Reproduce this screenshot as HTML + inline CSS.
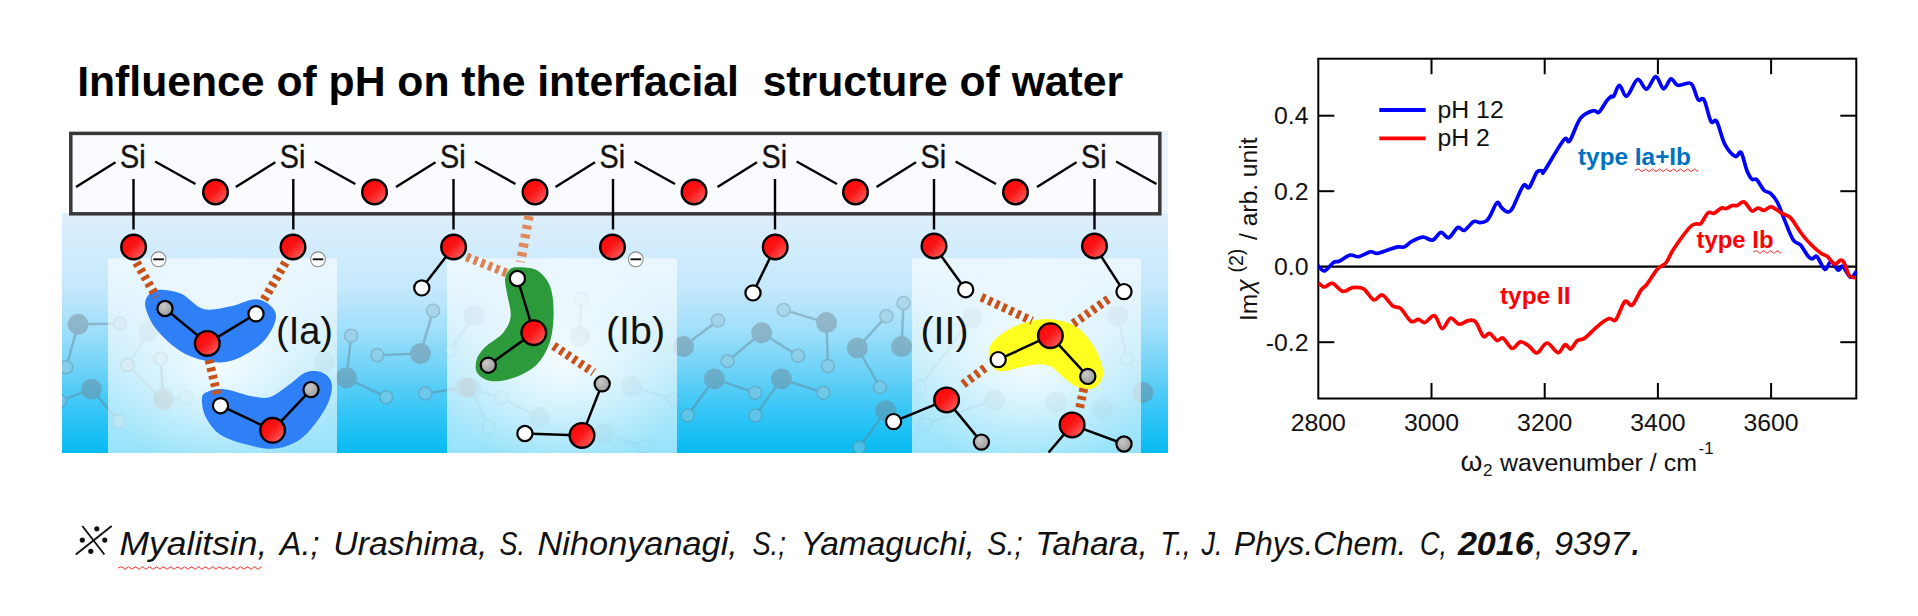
<!DOCTYPE html>
<html><head><meta charset="utf-8"><title>Influence of pH</title>
<style>
html,body{margin:0;padding:0;background:#fff;}
body{width:1918px;height:616px;overflow:hidden;font-family:"Liberation Sans",sans-serif;}
svg{position:absolute;left:0;top:0;display:block}
text{font-family:"Liberation Sans",sans-serif;}
</style></head><body>
<svg width="1918" height="616" viewBox="0 0 1918 616">
<defs>
<linearGradient id="bg" x1="0" y1="0" x2="0" y2="1">
<stop offset="0" stop-color="#deeffc"/>
<stop offset="0.32" stop-color="#c4e8fc"/>
<stop offset="0.5" stop-color="#9cdefa"/>
<stop offset="0.65" stop-color="#6fd3f8"/>
<stop offset="0.82" stop-color="#38c6f6"/>
<stop offset="1" stop-color="#06bbf3"/>
</linearGradient>
<linearGradient id="pn" x1="0" y1="0" x2="0" y2="1">
<stop offset="0" stop-color="#e6f3fc"/>
<stop offset="0.5" stop-color="#d2eefb"/>
<stop offset="1" stop-color="#8fdcf9"/>
</linearGradient>
<radialGradient id="glow" cx="0.5" cy="0.55" r="0.55">
<stop offset="0" stop-color="#fff" stop-opacity="0.8"/>
<stop offset="0.6" stop-color="#fff" stop-opacity="0.3"/>
<stop offset="1" stop-color="#fff" stop-opacity="0"/>
</radialGradient>
<linearGradient id="ox" x1="0.1" y1="0.1" x2="0.9" y2="0.9">
<stop offset="0" stop-color="#ff0808"/>
<stop offset="0.45" stop-color="#f81414"/>
<stop offset="0.8" stop-color="#fb4444"/>
<stop offset="1" stop-color="#ff6a6a"/>
</linearGradient>
<radialGradient id="hg" cx="0.4" cy="0.35" r="0.7">
<stop offset="0" stop-color="#c8c8c8"/>
<stop offset="1" stop-color="#9a9a9a"/>
</radialGradient>
</defs>

<text x="77.2" y="96.2" font-size="42.7" font-weight="bold" fill="#000" xml:space="preserve">Influence of pH on the interfacial  structure of water</text>
<clipPath id="cp"><rect x="62" y="130" width="1106" height="323"/></clipPath>
<rect x="1158" y="131" width="10" height="84" fill="#edf5fc"/>
<rect x="62" y="213" width="1106" height="240" fill="url(#bg)"/>
<g opacity="0.42" stroke="#64808f" stroke-width="2.5" clip-path="url(#cp)">
<line x1="683.5" y1="346.6" x2="718.0" y2="320.4"/>
<line x1="761.6" y1="332.8" x2="727.6" y2="361.2"/>
<line x1="761.6" y1="332.8" x2="798.0" y2="355.7"/>
<line x1="826.5" y1="322.6" x2="783.7" y2="309.9"/>
<line x1="826.5" y1="322.6" x2="827.9" y2="365.9"/>
<line x1="857.4" y1="348.0" x2="886.4" y2="316.2"/>
<line x1="857.4" y1="348.0" x2="880.0" y2="387.2"/>
<line x1="901.6" y1="346.6" x2="903.5" y2="303.0"/>
<line x1="714.4" y1="378.9" x2="755.3" y2="392.7"/>
<line x1="714.4" y1="378.9" x2="687.6" y2="415.6"/>
<line x1="781.5" y1="378.9" x2="823.4" y2="392.7"/>
<line x1="781.5" y1="378.9" x2="755.3" y2="415.6"/>
<line x1="885.8" y1="410.7" x2="859.3" y2="447.4"/>
<line x1="346.5" y1="377.8" x2="351.2" y2="335.7"/>
<line x1="346.5" y1="377.8" x2="386.2" y2="397.2"/>
<line x1="420.5" y1="353.6" x2="377.3" y2="355.2"/>
<line x1="420.5" y1="353.6" x2="433.0" y2="310.8"/>
<line x1="466.0" y1="387.5" x2="425.2" y2="393.4"/>
<line x1="78.1" y1="324.3" x2="119.9" y2="323.5"/>
<line x1="78.1" y1="324.3" x2="66.3" y2="367.3"/>
<line x1="91.5" y1="389.2" x2="119.0" y2="421.6"/>
<line x1="91.5" y1="389.2" x2="60.0" y2="401.0"/>
<line x1="163.6" y1="400.5" x2="127.2" y2="364.8"/>
<line x1="163.6" y1="400.5" x2="161.2" y2="358.0"/>
<circle cx="683.5" cy="346.6" r="10.5" fill="#707c88" stroke="none"/>
<circle cx="718.0" cy="320.4" r="6.5" fill="#9fc4d6" stroke="#6f8796" stroke-width="1.5"/>
<circle cx="761.6" cy="332.8" r="10.5" fill="#707c88" stroke="none"/>
<circle cx="727.6" cy="361.2" r="6.5" fill="#9fc4d6" stroke="#6f8796" stroke-width="1.5"/>
<circle cx="798.0" cy="355.7" r="6.5" fill="#9fc4d6" stroke="#6f8796" stroke-width="1.5"/>
<circle cx="826.5" cy="322.6" r="10.5" fill="#707c88" stroke="none"/>
<circle cx="783.7" cy="309.9" r="6.5" fill="#9fc4d6" stroke="#6f8796" stroke-width="1.5"/>
<circle cx="827.9" cy="365.9" r="6.5" fill="#9fc4d6" stroke="#6f8796" stroke-width="1.5"/>
<circle cx="857.4" cy="348.0" r="10.5" fill="#707c88" stroke="none"/>
<circle cx="886.4" cy="316.2" r="6.5" fill="#9fc4d6" stroke="#6f8796" stroke-width="1.5"/>
<circle cx="880.0" cy="387.2" r="6.5" fill="#9fc4d6" stroke="#6f8796" stroke-width="1.5"/>
<circle cx="901.6" cy="346.6" r="10.5" fill="#707c88" stroke="none"/>
<circle cx="903.5" cy="303.0" r="6.5" fill="#9fc4d6" stroke="#6f8796" stroke-width="1.5"/>
<circle cx="714.4" cy="378.9" r="10.5" fill="#707c88" stroke="none"/>
<circle cx="755.3" cy="392.7" r="6.5" fill="#9fc4d6" stroke="#6f8796" stroke-width="1.5"/>
<circle cx="687.6" cy="415.6" r="6.5" fill="#9fc4d6" stroke="#6f8796" stroke-width="1.5"/>
<circle cx="781.5" cy="378.9" r="10.5" fill="#707c88" stroke="none"/>
<circle cx="823.4" cy="392.7" r="6.5" fill="#9fc4d6" stroke="#6f8796" stroke-width="1.5"/>
<circle cx="755.3" cy="415.6" r="6.5" fill="#9fc4d6" stroke="#6f8796" stroke-width="1.5"/>
<circle cx="885.8" cy="410.7" r="10.5" fill="#707c88" stroke="none"/>
<circle cx="859.3" cy="447.4" r="6.5" fill="#9fc4d6" stroke="#6f8796" stroke-width="1.5"/>
<circle cx="346.5" cy="377.8" r="10.5" fill="#707c88" stroke="none"/>
<circle cx="351.2" cy="335.7" r="6.5" fill="#9fc4d6" stroke="#6f8796" stroke-width="1.5"/>
<circle cx="386.2" cy="397.2" r="6.5" fill="#9fc4d6" stroke="#6f8796" stroke-width="1.5"/>
<circle cx="420.5" cy="353.6" r="10.5" fill="#707c88" stroke="none"/>
<circle cx="377.3" cy="355.2" r="6.5" fill="#9fc4d6" stroke="#6f8796" stroke-width="1.5"/>
<circle cx="433.0" cy="310.8" r="6.5" fill="#9fc4d6" stroke="#6f8796" stroke-width="1.5"/>
<circle cx="466.0" cy="387.5" r="10.5" fill="#707c88" stroke="none"/>
<circle cx="425.2" cy="393.4" r="6.5" fill="#9fc4d6" stroke="#6f8796" stroke-width="1.5"/>
<circle cx="78.1" cy="324.3" r="10.5" fill="#707c88" stroke="none"/>
<circle cx="119.9" cy="323.5" r="6.5" fill="#9fc4d6" stroke="#6f8796" stroke-width="1.5"/>
<circle cx="66.3" cy="367.3" r="6.5" fill="#9fc4d6" stroke="#6f8796" stroke-width="1.5"/>
<circle cx="91.5" cy="389.2" r="10.5" fill="#707c88" stroke="none"/>
<circle cx="119.0" cy="421.6" r="6.5" fill="#9fc4d6" stroke="#6f8796" stroke-width="1.5"/>
<circle cx="60.0" cy="401.0" r="6.5" fill="#9fc4d6" stroke="#6f8796" stroke-width="1.5"/>
<circle cx="163.6" cy="400.5" r="10.5" fill="#707c88" stroke="none"/>
<circle cx="127.2" cy="364.8" r="6.5" fill="#9fc4d6" stroke="#6f8796" stroke-width="1.5"/>
<circle cx="161.2" cy="358.0" r="6.5" fill="#9fc4d6" stroke="#6f8796" stroke-width="1.5"/>
<circle cx="1143.0" cy="392.5" r="10.5" fill="#707c88" stroke="none"/>
</g>
<rect x="108" y="258.3" width="229" height="195" fill="#fff" opacity="0.58"/>
<rect x="108" y="258.3" width="229" height="195" fill="url(#glow)"/>
<rect x="447" y="258.3" width="230" height="195" fill="#fff" opacity="0.58"/>
<rect x="447" y="258.3" width="230" height="195" fill="url(#glow)"/>
<rect x="912" y="258.3" width="229" height="195" fill="#fff" opacity="0.58"/>
<rect x="912" y="258.3" width="229" height="195" fill="url(#glow)"/>
<g opacity="0.055" stroke="#5a6a75" stroke-width="2.5">
<line x1="474.1" y1="315.1" x2="449.7" y2="350.8"/>
<line x1="579.6" y1="336.2" x2="581.2" y2="298.8"/>
<line x1="470.8" y1="388.1" x2="488.7" y2="427.1"/>
<line x1="470.8" y1="388.1" x2="501.7" y2="397.9"/>
<line x1="539.0" y1="417.3" x2="501.7" y2="397.9"/>
<line x1="631.6" y1="386.5" x2="673.8" y2="399.5"/>
<line x1="604.0" y1="433.6" x2="644.5" y2="446.6"/>
<line x1="148.7" y1="331.3" x2="127.6" y2="365.4"/>
<line x1="163.3" y1="397.9" x2="160.0" y2="358.9"/>
<line x1="163.3" y1="397.9" x2="186.0" y2="397.9"/>
<line x1="972.0" y1="317.8" x2="919.7" y2="386.8"/>
<line x1="1117.7" y1="315.9" x2="1127.0" y2="358.8"/>
<line x1="994.4" y1="399.9" x2="925.3" y2="424.2"/>
<circle cx="474.1" cy="315.1" r="10.5" fill="#70777f" stroke="none"/>
<circle cx="449.7" cy="350.8" r="6.5" fill="#dfe8ee" stroke="#5f6f7a" stroke-width="1.5"/>
<circle cx="579.6" cy="336.2" r="10.5" fill="#70777f" stroke="none"/>
<circle cx="581.2" cy="298.8" r="6.5" fill="#dfe8ee" stroke="#5f6f7a" stroke-width="1.5"/>
<circle cx="470.8" cy="388.1" r="10.5" fill="#70777f" stroke="none"/>
<circle cx="488.7" cy="427.1" r="6.5" fill="#dfe8ee" stroke="#5f6f7a" stroke-width="1.5"/>
<circle cx="501.7" cy="397.9" r="6.5" fill="#dfe8ee" stroke="#5f6f7a" stroke-width="1.5"/>
<circle cx="539.0" cy="417.3" r="10.5" fill="#70777f" stroke="none"/>
<circle cx="501.7" cy="397.9" r="6.5" fill="#dfe8ee" stroke="#5f6f7a" stroke-width="1.5"/>
<circle cx="631.6" cy="386.5" r="10.5" fill="#70777f" stroke="none"/>
<circle cx="673.8" cy="399.5" r="6.5" fill="#dfe8ee" stroke="#5f6f7a" stroke-width="1.5"/>
<circle cx="604.0" cy="433.6" r="10.5" fill="#70777f" stroke="none"/>
<circle cx="644.5" cy="446.6" r="6.5" fill="#dfe8ee" stroke="#5f6f7a" stroke-width="1.5"/>
<circle cx="148.7" cy="331.3" r="10.5" fill="#70777f" stroke="none"/>
<circle cx="127.6" cy="365.4" r="6.5" fill="#dfe8ee" stroke="#5f6f7a" stroke-width="1.5"/>
<circle cx="163.3" cy="397.9" r="10.5" fill="#70777f" stroke="none"/>
<circle cx="160.0" cy="358.9" r="6.5" fill="#dfe8ee" stroke="#5f6f7a" stroke-width="1.5"/>
<circle cx="186.0" cy="397.9" r="6.5" fill="#dfe8ee" stroke="#5f6f7a" stroke-width="1.5"/>
<circle cx="324.0" cy="362.0" r="10.5" fill="#70777f" stroke="none"/>
<circle cx="972.0" cy="317.8" r="10.5" fill="#70777f" stroke="none"/>
<circle cx="919.7" cy="386.8" r="6.5" fill="#dfe8ee" stroke="#5f6f7a" stroke-width="1.5"/>
<circle cx="1117.7" cy="315.9" r="10.5" fill="#70777f" stroke="none"/>
<circle cx="1127.0" cy="358.8" r="6.5" fill="#dfe8ee" stroke="#5f6f7a" stroke-width="1.5"/>
<circle cx="994.4" cy="399.9" r="10.5" fill="#70777f" stroke="none"/>
<circle cx="925.3" cy="424.2" r="6.5" fill="#dfe8ee" stroke="#5f6f7a" stroke-width="1.5"/>
<circle cx="1056.0" cy="401.8" r="10.5" fill="#70777f" stroke="none"/>
<circle cx="1102.7" cy="409.2" r="10.5" fill="#70777f" stroke="none"/>
</g>
<rect x="70.8" y="133.4" width="1089" height="80.4" fill="#fafbfe" stroke="#383838" stroke-width="3.5"/>
<g stroke="#000" stroke-width="2.4" stroke-linecap="butt">
<line x1="133.5" y1="179" x2="133.5" y2="229.5"/>
<line x1="155.1" y1="161.5" x2="195.5" y2="184.0"/>
<line x1="115.5" y1="162.3" x2="76.0" y2="187.0"/>
<line x1="293.3" y1="179" x2="293.3" y2="229.5"/>
<line x1="314.9" y1="161.5" x2="355.3" y2="184.0"/>
<line x1="275.3" y1="162.3" x2="235.8" y2="187.0"/>
<line x1="453.5" y1="179" x2="453.5" y2="229.5"/>
<line x1="475.1" y1="161.5" x2="515.5" y2="184.0"/>
<line x1="435.5" y1="162.3" x2="396.0" y2="187.0"/>
<line x1="613" y1="179" x2="613" y2="229.5"/>
<line x1="634.6" y1="161.5" x2="675.0" y2="184.0"/>
<line x1="595" y1="162.3" x2="555.5" y2="187.0"/>
<line x1="775" y1="179" x2="775" y2="229.5"/>
<line x1="796.6" y1="161.5" x2="837.0" y2="184.0"/>
<line x1="757" y1="162.3" x2="717.5" y2="187.0"/>
<line x1="934" y1="179" x2="934" y2="229.5"/>
<line x1="955.6" y1="161.5" x2="996.0" y2="184.0"/>
<line x1="916" y1="162.3" x2="876.5" y2="187.0"/>
<line x1="1094.5" y1="179" x2="1094.5" y2="229.5"/>
<line x1="1116.1" y1="161.5" x2="1156.5" y2="184.0"/>
<line x1="1076.5" y1="162.3" x2="1037.0" y2="187.0"/>
</g>
<text x="132.8" y="168" font-size="34" text-anchor="middle" fill="#111" stroke="#111" stroke-width="0.4" textLength="25.5" lengthAdjust="spacingAndGlyphs">Si</text>
<text x="292.6" y="168" font-size="34" text-anchor="middle" fill="#111" stroke="#111" stroke-width="0.4" textLength="25.5" lengthAdjust="spacingAndGlyphs">Si</text>
<text x="452.8" y="168" font-size="34" text-anchor="middle" fill="#111" stroke="#111" stroke-width="0.4" textLength="25.5" lengthAdjust="spacingAndGlyphs">Si</text>
<text x="612.3" y="168" font-size="34" text-anchor="middle" fill="#111" stroke="#111" stroke-width="0.4" textLength="25.5" lengthAdjust="spacingAndGlyphs">Si</text>
<text x="774.3" y="168" font-size="34" text-anchor="middle" fill="#111" stroke="#111" stroke-width="0.4" textLength="25.5" lengthAdjust="spacingAndGlyphs">Si</text>
<text x="933.3" y="168" font-size="34" text-anchor="middle" fill="#111" stroke="#111" stroke-width="0.4" textLength="25.5" lengthAdjust="spacingAndGlyphs">Si</text>
<text x="1093.8" y="168" font-size="34" text-anchor="middle" fill="#111" stroke="#111" stroke-width="0.4" textLength="25.5" lengthAdjust="spacingAndGlyphs">Si</text>
<circle cx="215.5" cy="192.0" r="12.3" fill="url(#ox)" stroke="#000" stroke-width="2.4"/>
<circle cx="374.5" cy="192.0" r="12.3" fill="url(#ox)" stroke="#000" stroke-width="2.4"/>
<circle cx="535.0" cy="192.0" r="12.3" fill="url(#ox)" stroke="#000" stroke-width="2.4"/>
<circle cx="694.0" cy="192.0" r="12.3" fill="url(#ox)" stroke="#000" stroke-width="2.4"/>
<circle cx="855.5" cy="192.0" r="12.3" fill="url(#ox)" stroke="#000" stroke-width="2.4"/>
<circle cx="1015.5" cy="192.0" r="12.3" fill="url(#ox)" stroke="#000" stroke-width="2.4"/>
<path d="M159.3 289.7 C164.8 289.5 174.1 290.6 181.4 293.8 C188.8 297.0 195.1 306.9 203.4 309.0 C211.7 311.1 222.2 307.8 231.0 306.2 C239.8 304.6 249.0 299.1 255.9 299.3 C262.8 299.5 269.2 303.9 272.4 307.6 C275.6 311.3 277.0 315.4 275.2 321.4 C273.4 327.4 268.3 337.0 261.4 343.4 C254.5 349.8 242.5 357.0 233.8 360.0 C225.1 363.0 217.7 362.8 209.0 361.4 C200.3 360.0 190.1 357.0 181.4 351.7 C172.7 346.4 162.6 337.0 156.6 329.7 C150.6 322.4 146.9 313.4 145.5 307.6 C144.1 301.9 146.0 298.2 148.3 295.2 C150.6 292.2 153.8 289.9 159.3 289.7Z" fill="#2f80f7"/>
<path d="M204.8 393.1 C208.3 390.8 215.2 388.5 222.8 389.0 C230.4 389.5 242.5 394.5 250.3 395.9 C258.1 397.3 263.2 399.0 269.7 397.2 C276.1 395.4 283.0 388.9 289.0 384.8 C295.0 380.7 300.0 374.5 305.5 372.4 C311.0 370.3 317.6 370.6 322.0 372.4 C326.4 374.2 330.8 378.1 331.7 383.4 C332.6 388.7 331.1 396.5 327.6 404.1 C324.2 411.7 316.5 422.6 311.0 429.0 C305.5 435.4 300.9 439.5 294.5 442.8 C288.1 446.1 280.7 448.6 272.4 448.8 C264.1 449.0 253.5 446.5 244.8 444.1 C236.1 441.7 226.4 438.9 220.0 434.5 C213.6 430.1 209.2 423.2 206.2 417.9 C203.2 412.6 202.2 406.9 202.0 402.8 C201.8 398.7 201.3 395.4 204.8 393.1Z" fill="#2f80f7"/>
<path d="M518.2 267.3 C522.7 267.5 531.5 267.2 536.8 270.3 C542.1 273.4 547.1 279.0 549.9 286.0 C552.7 293.0 553.6 302.8 553.6 312.1 C553.6 321.4 552.7 333.3 549.9 342.0 C547.1 350.7 542.7 358.5 536.8 364.4 C530.9 370.3 521.9 374.7 514.4 377.5 C506.9 380.3 498.1 381.8 492.0 381.2 C485.9 380.6 480.4 377.2 477.8 373.8 C475.2 370.4 475.2 365.1 476.3 360.7 C477.4 356.3 480.1 352.3 484.6 347.6 C489.1 342.9 498.9 338.0 503.2 332.7 C507.5 327.4 510.1 322.4 510.7 315.9 C511.3 309.4 507.9 299.7 507.0 293.5 C506.1 287.3 504.6 282.6 505.1 278.5 C505.6 274.4 507.8 271.1 510.0 269.2 C512.2 267.3 513.7 267.1 518.2 267.3Z" fill="#2c9a3a"/>
<path d="M988.8 353.2 C989.1 349.5 989.2 346.0 992.6 342.0 C996.0 338.0 1002.9 332.6 1009.4 329.0 C1015.9 325.4 1024.3 322.3 1031.8 320.7 C1039.3 319.1 1046.7 318.5 1054.2 319.6 C1061.7 320.7 1070.1 322.7 1076.6 327.1 C1083.1 331.5 1089.1 339.0 1093.4 345.8 C1097.8 352.6 1101.5 362.3 1102.7 368.2 C1104.0 374.1 1102.8 377.8 1100.9 381.2 C1099.0 384.6 1095.5 387.8 1091.5 388.7 C1087.5 389.6 1081.3 388.7 1076.6 386.8 C1071.9 384.9 1067.9 380.9 1063.5 377.5 C1059.1 374.1 1055.1 368.5 1050.4 366.3 C1045.7 364.1 1041.1 364.1 1035.5 364.4 C1029.9 364.7 1022.7 367.1 1016.8 368.2 C1010.9 369.3 1004.4 371.8 1000.0 371.2 C995.6 370.6 992.6 367.4 990.7 364.4 C988.8 361.4 988.5 356.9 988.8 353.2Z" fill="#ffff20"/>
<line x1="136.5" y1="262.5" x2="156.5" y2="297.0" stroke="#c8521a" stroke-width="8.8" stroke-dasharray="3.9 3.9"/>
<line x1="285.5" y1="262.5" x2="263.5" y2="300.5" stroke="#c8521a" stroke-width="8.8" stroke-dasharray="3.9 3.9"/>
<line x1="209.0" y1="360.0" x2="217.0" y2="394.0" stroke="#c8521a" stroke-width="8.8" stroke-dasharray="3.9 3.9"/>
<line x1="529.0" y1="216.0" x2="520.5" y2="262.0" stroke="#e0895a" stroke-width="9.5" stroke-dasharray="4.2 5"/>
<line x1="466.6" y1="256.9" x2="508.0" y2="273.5" stroke="#dc8250" stroke-width="8.8" stroke-dasharray="3.9 3.9"/>
<line x1="553.6" y1="345.8" x2="593.5" y2="372.3" stroke="#c8521a" stroke-width="8.8" stroke-dasharray="3.9 3.9"/>
<line x1="981.4" y1="297.2" x2="1032.0" y2="320.8" stroke="#c8521a" stroke-width="8.8" stroke-dasharray="3.9 3.9"/>
<line x1="1108.3" y1="299.1" x2="1073.0" y2="323.8" stroke="#c8521a" stroke-width="8.8" stroke-dasharray="3.9 3.9"/>
<line x1="985.0" y1="368.0" x2="960.8" y2="386.0" stroke="#c8521a" stroke-width="8.8" stroke-dasharray="3.9 3.9"/>
<line x1="1083.8" y1="388.5" x2="1079.2" y2="410.0" stroke="#c8521a" stroke-width="8.8" stroke-dasharray="3.9 3.9"/>
<circle cx="133.6" cy="247.0" r="12.3" fill="url(#ox)" stroke="#000" stroke-width="2.4"/>
<circle cx="158.6" cy="259.3" r="7.4" fill="#fff" stroke="#8a8a8a" stroke-width="1.1"/>
<line x1="153.3" y1="259.3" x2="163.9" y2="259.3" stroke="#111" stroke-width="1.9"/>
<circle cx="293.0" cy="247.0" r="12.3" fill="url(#ox)" stroke="#000" stroke-width="2.4"/>
<circle cx="318.0" cy="259.3" r="7.4" fill="#fff" stroke="#8a8a8a" stroke-width="1.1"/>
<line x1="312.7" y1="259.3" x2="323.3" y2="259.3" stroke="#111" stroke-width="1.9"/>
<line x1="165.0" y1="308.5" x2="207.3" y2="343.4" stroke="#000" stroke-width="2.5"/>
<line x1="256.0" y1="313.8" x2="207.3" y2="343.4" stroke="#000" stroke-width="2.5"/>
<circle cx="165.0" cy="308.5" r="7.6" fill="url(#hg)" stroke="#000" stroke-width="2.2"/>
<circle cx="256.0" cy="313.8" r="7.6" fill="#fff" stroke="#000" stroke-width="2.2"/>
<circle cx="207.3" cy="343.4" r="12.3" fill="url(#ox)" stroke="#000" stroke-width="2.4"/>
<line x1="220.5" y1="405.7" x2="272.6" y2="430.3" stroke="#000" stroke-width="2.5"/>
<line x1="311.0" y1="389.6" x2="272.6" y2="430.3" stroke="#000" stroke-width="2.5"/>
<circle cx="220.5" cy="405.7" r="7.6" fill="#fff" stroke="#000" stroke-width="2.2"/>
<circle cx="311.0" cy="389.6" r="7.6" fill="url(#hg)" stroke="#000" stroke-width="2.2"/>
<circle cx="272.6" cy="430.3" r="12.3" fill="url(#ox)" stroke="#000" stroke-width="2.4"/>
<line x1="453.6" y1="247.0" x2="421.8" y2="287.9" stroke="#000" stroke-width="2.5"/>
<circle cx="421.8" cy="287.9" r="7.6" fill="#fff" stroke="#000" stroke-width="2.2"/>
<circle cx="453.6" cy="247.0" r="12.3" fill="url(#ox)" stroke="#000" stroke-width="2.4"/>
<circle cx="612.5" cy="247.0" r="12.3" fill="url(#ox)" stroke="#000" stroke-width="2.4"/>
<circle cx="635.8" cy="259.3" r="7.4" fill="#fff" stroke="#8a8a8a" stroke-width="1.1"/>
<line x1="630.5" y1="259.3" x2="641.1" y2="259.3" stroke="#111" stroke-width="1.9"/>
<line x1="517.4" y1="278.5" x2="533.8" y2="332.7" stroke="#000" stroke-width="2.5"/>
<line x1="488.3" y1="365.2" x2="533.8" y2="332.7" stroke="#000" stroke-width="2.5"/>
<circle cx="517.4" cy="278.5" r="7.6" fill="#fff" stroke="#000" stroke-width="2.2"/>
<circle cx="488.3" cy="365.2" r="7.6" fill="url(#hg)" stroke="#000" stroke-width="2.2"/>
<circle cx="533.8" cy="332.7" r="12.3" fill="url(#ox)" stroke="#000" stroke-width="2.4"/>
<line x1="602.2" y1="383.8" x2="582.0" y2="435.4" stroke="#000" stroke-width="2.5"/>
<line x1="524.9" y1="433.5" x2="582.0" y2="435.4" stroke="#000" stroke-width="2.5"/>
<circle cx="602.2" cy="383.8" r="7.6" fill="url(#hg)" stroke="#000" stroke-width="2.2"/>
<circle cx="524.9" cy="433.5" r="7.6" fill="#fff" stroke="#000" stroke-width="2.2"/>
<circle cx="582.0" cy="435.4" r="12.3" fill="url(#ox)" stroke="#000" stroke-width="2.4"/>
<line x1="775.2" y1="247.0" x2="753.0" y2="292.9" stroke="#000" stroke-width="2.5"/>
<circle cx="753.0" cy="292.9" r="7.6" fill="#fff" stroke="#000" stroke-width="2.2"/>
<circle cx="775.2" cy="247.0" r="12.3" fill="url(#ox)" stroke="#000" stroke-width="2.4"/>
<line x1="934.0" y1="246.0" x2="965.7" y2="289.7" stroke="#000" stroke-width="2.5"/>
<circle cx="965.7" cy="289.7" r="7.6" fill="#fff" stroke="#000" stroke-width="2.2"/>
<circle cx="934.0" cy="246.0" r="12.3" fill="url(#ox)" stroke="#000" stroke-width="2.4"/>
<line x1="1094.5" y1="246.0" x2="1124.0" y2="291.6" stroke="#000" stroke-width="2.5"/>
<circle cx="1124.0" cy="291.6" r="7.6" fill="#fff" stroke="#000" stroke-width="2.2"/>
<circle cx="1094.5" cy="246.0" r="12.3" fill="url(#ox)" stroke="#000" stroke-width="2.4"/>
<line x1="998.2" y1="359.6" x2="1050.4" y2="335.7" stroke="#000" stroke-width="2.5"/>
<line x1="1087.8" y1="376.4" x2="1050.4" y2="335.7" stroke="#000" stroke-width="2.5"/>
<circle cx="998.2" cy="359.6" r="7.6" fill="#fff" stroke="#000" stroke-width="2.2"/>
<circle cx="1087.8" cy="376.4" r="7.6" fill="url(#hg)" stroke="#000" stroke-width="2.2"/>
<circle cx="1050.4" cy="335.7" r="12.3" fill="url(#ox)" stroke="#000" stroke-width="2.4"/>
<line x1="893.6" y1="421.6" x2="946.6" y2="399.9" stroke="#000" stroke-width="2.5"/>
<line x1="981.4" y1="442.1" x2="946.6" y2="399.9" stroke="#000" stroke-width="2.5"/>
<circle cx="893.6" cy="421.6" r="7.6" fill="#fff" stroke="#000" stroke-width="2.2"/>
<circle cx="981.4" cy="442.1" r="7.6" fill="url(#hg)" stroke="#000" stroke-width="2.2"/>
<circle cx="946.6" cy="399.9" r="12.3" fill="url(#ox)" stroke="#000" stroke-width="2.4"/>
<g clip-path="inset(0)">
</g>
<line x1="1124.0" y1="444.0" x2="1072.1" y2="424.9" stroke="#000" stroke-width="2.5"/>
<line x1="1048.6" y1="452.5" x2="1072.1" y2="424.9" stroke="#000" stroke-width="2.5"/>
<circle cx="1124.0" cy="444.0" r="7.6" fill="url(#hg)" stroke="#000" stroke-width="2.2"/>
<circle cx="1072.1" cy="424.9" r="12.3" fill="url(#ox)" stroke="#000" stroke-width="2.4"/>
<text x="276" y="344" font-size="38" fill="#111" textLength="57" lengthAdjust="spacingAndGlyphs">(Ia)</text>
<text x="606" y="344" font-size="38" fill="#111" textLength="59" lengthAdjust="spacingAndGlyphs">(Ib)</text>
<text x="920.5" y="344" font-size="38" fill="#111" textLength="48" lengthAdjust="spacingAndGlyphs">(II)</text>
<rect x="55" y="453" width="1125" height="30" fill="#fff"/>
<rect x="1318.3" y="58.7" width="538" height="339.8" fill="none" stroke="#000" stroke-width="2"/>
<line x1="1318.3" y1="266.7" x2="1856.3" y2="266.7" stroke="#000" stroke-width="2.2"/>
<g stroke="#000" stroke-width="2">
<line x1="1431.5" y1="58.7" x2="1431.5" y2="74.2"/>
<line x1="1431.5" y1="398.5" x2="1431.5" y2="383"/>
<line x1="1544.7" y1="58.7" x2="1544.7" y2="74.2"/>
<line x1="1544.7" y1="398.5" x2="1544.7" y2="383"/>
<line x1="1657.9" y1="58.7" x2="1657.9" y2="74.2"/>
<line x1="1657.9" y1="398.5" x2="1657.9" y2="383"/>
<line x1="1771.1" y1="58.7" x2="1771.1" y2="74.2"/>
<line x1="1771.1" y1="398.5" x2="1771.1" y2="383"/>
<line x1="1318.3" y1="115.7" x2="1334.3" y2="115.7"/>
<line x1="1856.3" y1="115.7" x2="1840.3" y2="115.7"/>
<line x1="1318.3" y1="191.2" x2="1334.3" y2="191.2"/>
<line x1="1856.3" y1="191.2" x2="1840.3" y2="191.2"/>
<line x1="1318.3" y1="342.2" x2="1334.3" y2="342.2"/>
<line x1="1856.3" y1="342.2" x2="1840.3" y2="342.2"/>
</g>
<text x="1318.3" y="431" font-size="24.8" text-anchor="middle" fill="#111">2800</text>
<text x="1431.5" y="431" font-size="24.8" text-anchor="middle" fill="#111">3000</text>
<text x="1544.7" y="431" font-size="24.8" text-anchor="middle" fill="#111">3200</text>
<text x="1657.9" y="431" font-size="24.8" text-anchor="middle" fill="#111">3400</text>
<text x="1771.1" y="431" font-size="24.8" text-anchor="middle" fill="#111">3600</text>
<text x="1308.5" y="124.0" font-size="24.8" text-anchor="end" fill="#111">0.4</text>
<text x="1308.5" y="199.5" font-size="24.8" text-anchor="end" fill="#111">0.2</text>
<text x="1308.5" y="275.0" font-size="24.8" text-anchor="end" fill="#111">0.0</text>
<text x="1308.5" y="350.5" font-size="24.8" text-anchor="end" fill="#111">-0.2</text>
<clipPath id="cc"><rect x="1318.3" y="58.7" width="539" height="339.8"/></clipPath>
<path clip-path="url(#cc)" d="M1317.8 265.5 C1318.9 266.4 1322.0 271.4 1324.6 270.9 C1327.2 270.4 1331.0 264.1 1333.4 262.5 C1335.8 260.9 1336.5 262.4 1339.2 261.2 C1342.0 260.0 1346.7 255.8 1349.9 255.1 C1353.2 254.3 1355.3 257.2 1358.7 256.7 C1362.1 256.1 1367.3 252.4 1370.4 251.8 C1373.5 251.2 1374.3 253.7 1377.2 253.4 C1380.1 253.1 1384.5 251.0 1387.9 249.9 C1391.3 248.8 1394.9 247.4 1397.7 246.9 C1400.5 246.4 1402.1 247.9 1404.5 246.9 C1406.9 245.9 1409.2 242.7 1412.3 241.1 C1415.4 239.5 1419.6 237.4 1423.0 237.2 C1426.4 237.0 1429.7 240.9 1432.7 240.1 C1435.7 239.3 1438.2 232.7 1440.9 232.3 C1443.6 231.9 1445.9 238.6 1448.7 237.8 C1451.5 237.0 1455.1 228.7 1457.7 227.5 C1460.3 226.3 1461.7 231.4 1464.3 230.4 C1466.9 229.4 1471.0 222.9 1473.6 221.6 C1476.2 220.3 1477.8 222.7 1479.9 222.6 C1482.0 222.5 1484.6 222.1 1486.3 221.0 C1488.0 219.9 1488.4 218.9 1490.2 215.8 C1492.0 212.8 1495.0 204.0 1497.0 202.7 C1499.0 201.4 1500.1 206.5 1501.9 208.0 C1503.7 209.5 1505.9 211.9 1507.7 211.9 C1509.5 211.9 1510.0 212.4 1512.6 208.0 C1515.2 203.6 1520.5 189.0 1523.3 185.6 C1526.1 182.2 1526.9 189.8 1529.2 187.5 C1531.5 185.2 1534.7 174.8 1537.0 172.0 C1539.3 169.2 1541.6 171.2 1542.8 171.0 C1544.0 170.8 1540.9 176.2 1544.4 171.0 C1547.9 165.8 1559.6 144.9 1563.8 139.9 C1568.0 134.9 1566.9 144.4 1569.7 140.8 C1572.5 137.2 1576.5 123.4 1580.4 118.4 C1584.3 113.4 1590.0 111.7 1593.1 110.7 C1596.2 109.7 1596.6 113.8 1598.9 112.2 C1601.2 110.6 1604.7 103.5 1606.7 100.9 C1608.8 98.3 1610.0 97.2 1611.2 96.4 C1612.4 95.6 1612.4 98.1 1613.8 96.2 C1615.2 94.3 1617.2 85.3 1619.4 85.3 C1621.6 85.3 1623.8 97.0 1626.8 96.0 C1629.8 95.0 1634.2 80.6 1637.5 79.5 C1640.8 78.4 1643.5 89.7 1646.6 89.2 C1649.6 88.7 1653.0 76.7 1655.8 76.6 C1658.6 76.5 1661.1 88.4 1663.6 88.8 C1666.1 89.2 1668.6 79.5 1671.0 78.9 C1673.4 78.3 1674.7 84.6 1677.8 85.3 C1680.9 86.0 1686.9 82.7 1689.5 83.0 C1692.1 83.3 1691.9 84.5 1693.4 87.3 C1694.9 90.1 1696.5 97.8 1698.3 99.9 C1700.1 102.0 1702.0 96.3 1704.1 99.9 C1706.2 103.5 1708.8 117.8 1710.9 121.4 C1713.0 125.0 1714.5 117.7 1716.8 121.4 C1719.1 125.1 1721.5 138.0 1724.6 143.8 C1727.7 149.6 1732.5 155.0 1735.3 156.4 C1738.0 157.8 1739.1 150.1 1741.1 152.5 C1743.0 154.9 1745.2 166.2 1747.0 170.7 C1748.8 175.1 1750.3 177.7 1751.9 179.2 C1753.5 180.7 1754.7 177.9 1756.7 179.7 C1758.7 181.5 1761.7 187.9 1764.0 190.2 C1766.3 192.5 1768.4 191.4 1770.6 193.4 C1772.8 195.4 1775.0 197.9 1777.4 202.4 C1779.8 206.9 1782.2 214.3 1784.8 220.6 C1787.4 226.9 1790.7 236.0 1793.3 240.1 C1795.9 244.2 1798.2 242.3 1800.6 245.0 C1803.0 247.7 1806.0 253.7 1807.9 256.0 C1809.9 258.3 1810.8 258.8 1812.3 258.9 C1813.8 259.0 1814.8 254.8 1816.9 256.5 C1819.0 258.2 1822.6 268.5 1824.9 269.4 C1827.2 270.2 1828.8 261.5 1831.0 261.6 C1833.2 261.7 1836.3 269.3 1838.3 270.1 C1840.2 270.9 1840.7 265.2 1842.7 266.4 C1844.7 267.6 1848.2 276.4 1850.5 277.2 C1852.8 278.0 1855.6 272.1 1856.6 271.1" fill="none" stroke="#0000ff" stroke-width="3.7" stroke-linejoin="round" stroke-linecap="butt"/>
<path clip-path="url(#cc)" d="M1318.5 282.9 C1319.5 283.6 1322.3 286.9 1324.6 287.0 C1326.9 287.1 1329.4 282.6 1332.4 283.3 C1335.5 284.0 1339.5 290.7 1342.9 291.4 C1346.3 292.1 1349.1 288.1 1352.6 287.7 C1356.0 287.3 1360.1 286.9 1363.6 288.9 C1367.1 290.9 1370.7 298.9 1373.8 299.9 C1376.9 300.9 1379.1 294.0 1382.3 295.0 C1385.5 296.0 1389.8 303.8 1392.8 306.0 C1395.8 308.2 1397.6 305.8 1400.6 308.4 C1403.6 310.9 1408.0 319.5 1411.0 321.3 C1414.0 323.1 1416.0 319.2 1418.3 319.4 C1420.6 319.6 1422.2 323.1 1424.9 322.5 C1427.6 321.9 1431.7 314.7 1434.6 315.7 C1437.5 316.7 1439.5 328.2 1442.2 328.6 C1444.9 329.0 1447.7 318.9 1450.5 318.2 C1453.3 317.5 1456.0 323.8 1459.0 324.2 C1462.0 324.6 1465.5 321.0 1468.2 320.6 C1471.0 320.2 1473.0 319.2 1475.5 321.8 C1478.0 324.4 1481.2 334.5 1483.5 336.4 C1485.8 338.3 1487.2 332.6 1489.5 333.3 C1491.8 334.0 1494.7 339.7 1497.0 340.5 C1499.3 341.3 1500.6 336.8 1503.1 338.1 C1505.6 339.4 1509.2 347.9 1512.1 348.5 C1515.0 349.1 1517.6 342.2 1520.4 341.8 C1523.2 341.4 1526.1 344.2 1528.9 346.1 C1531.7 348.0 1534.2 353.5 1537.2 353.0 C1540.2 352.5 1543.5 343.1 1547.0 343.0 C1550.5 342.9 1554.9 352.4 1557.9 352.7 C1560.9 353.0 1563.1 345.2 1565.2 344.6 C1567.3 344.0 1568.6 349.7 1570.6 349.0 C1572.6 348.3 1575.1 342.3 1577.4 340.5 C1579.8 338.7 1581.2 340.5 1584.7 338.1 C1588.2 335.7 1594.0 329.1 1598.1 325.9 C1602.1 322.6 1606.0 319.6 1609.0 318.6 C1612.0 317.6 1613.2 322.7 1615.8 319.8 C1618.4 316.9 1622.1 303.9 1624.8 301.5 C1627.5 299.1 1629.4 307.0 1632.1 305.2 C1634.8 303.4 1638.3 294.1 1640.7 290.6 C1643.1 287.2 1643.9 288.1 1646.7 284.5 C1649.5 280.9 1654.5 272.3 1657.7 268.7 C1661.0 265.1 1663.6 265.9 1666.2 262.6 C1668.8 259.4 1669.6 255.0 1673.5 249.2 C1677.4 243.4 1685.8 231.8 1689.5 227.6 C1693.2 223.4 1693.7 224.7 1695.6 224.0 C1697.5 223.3 1698.9 225.2 1701.0 223.3 C1703.1 221.5 1705.8 214.6 1708.0 212.9 C1710.2 211.2 1711.9 214.1 1714.1 213.3 C1716.3 212.5 1719.4 208.8 1721.4 208.0 C1723.4 207.2 1724.5 208.9 1726.3 208.5 C1728.1 208.1 1730.6 206.0 1732.4 205.5 C1734.2 205.0 1735.2 206.1 1737.2 205.5 C1739.2 204.9 1741.6 201.0 1744.1 201.9 C1746.5 202.8 1749.6 209.9 1751.9 210.9 C1754.2 211.9 1756.0 208.1 1758.0 208.0 C1760.0 207.9 1761.8 210.6 1764.0 210.4 C1766.2 210.2 1768.6 206.4 1771.4 206.8 C1774.2 207.2 1778.1 211.2 1781.1 212.9 C1784.1 214.6 1787.4 215.3 1789.6 217.0 C1791.8 218.7 1792.5 220.3 1794.5 223.1 C1796.5 225.9 1799.0 230.3 1801.8 234.0 C1804.6 237.7 1808.2 241.8 1811.5 245.0 C1814.8 248.2 1818.6 251.6 1821.3 253.5 C1824.0 255.4 1825.2 254.8 1827.4 256.5 C1829.6 258.2 1832.5 263.4 1834.7 264.0 C1836.9 264.6 1839.2 260.2 1840.8 260.1 C1842.4 260.0 1843.0 260.7 1844.4 263.3 C1845.8 265.9 1847.5 273.1 1849.3 275.5 C1851.1 277.9 1854.4 277.5 1855.4 277.9" fill="none" stroke="#ff0000" stroke-width="3.7" stroke-linejoin="round" stroke-linecap="butt"/>
<line x1="1379.3" y1="110" x2="1425.7" y2="110" stroke="#0000ff" stroke-width="3.8"/>
<line x1="1379.3" y1="138.3" x2="1425.7" y2="138.3" stroke="#ff0000" stroke-width="3.8"/>
<text x="1437.5" y="117.8" font-size="24.8" fill="#111">pH 12</text>
<text x="1437.5" y="146" font-size="24.8" fill="#111">pH 2</text>
<text x="1578" y="165.3" font-size="24.2" font-weight="bold" fill="#0070c0" textLength="113" lengthAdjust="spacingAndGlyphs">type Ia+Ib</text>
<text x="1696.5" y="247.5" font-size="24.2" font-weight="bold" fill="#ff0000" textLength="77" lengthAdjust="spacingAndGlyphs">type Ib</text>
<text x="1500" y="304.2" font-size="24.2" font-weight="bold" fill="#ff0000" textLength="70.5" lengthAdjust="spacingAndGlyphs">type II</text>
<path d="M1635.0 170.3 L1638.5 169.0 L1642.0 171.6 L1645.5 169.0 L1649.0 171.6 L1652.5 169.0 L1656.0 171.6 L1659.5 169.0 L1663.0 171.6 L1666.5 169.0 L1670.0 171.6 L1673.5 169.0 L1677.0 171.6 L1680.5 169.0 L1684.0 171.6 L1687.5 169.0 L1691.0 171.6 L1694.5 169.0 L1698.0 171.6" fill="none" stroke="#ff3030" stroke-width="1"/>
<path d="M1753.0 252.0 L1756.5 250.7 L1760.0 253.3 L1763.5 250.7 L1767.0 253.3 L1770.5 250.7 L1774.0 253.3 L1777.5 250.7 L1781.0 253.3" fill="none" stroke="#ff3030" stroke-width="1"/>
<path d="M118.0 568.0 L121.5 566.7 L125.0 569.3 L128.5 566.7 L132.0 569.3 L135.5 566.7 L139.0 569.3 L142.5 566.7 L146.0 569.3 L149.5 566.7 L153.0 569.3 L156.5 566.7 L160.0 569.3 L163.5 566.7 L167.0 569.3 L170.5 566.7 L174.0 569.3 L177.5 566.7 L181.0 569.3 L184.5 566.7 L188.0 569.3 L191.5 566.7 L195.0 569.3 L198.5 566.7 L202.0 569.3 L205.5 566.7 L209.0 569.3 L212.5 566.7 L216.0 569.3 L219.5 566.7 L223.0 569.3 L226.5 566.7 L230.0 569.3 L233.5 566.7 L237.0 569.3 L240.5 566.7 L244.0 569.3 L247.5 566.7 L251.0 569.3 L254.5 566.7 L258.0 569.3 L261.5 566.7" fill="none" stroke="#ff3030" stroke-width="1"/>
<text y="470.8" font-size="24.8" fill="#111"><tspan x="1460.5" font-size="28">ω</tspan><tspan x="1483" font-size="17" dy="5.6">2</tspan><tspan x="1500" dy="-5.6" textLength="197" lengthAdjust="spacingAndGlyphs">wavenumber / cm</tspan><tspan x="1698.5" font-size="17" dy="-17">-1</tspan></text>
<g transform="translate(1256.7,319.5) rotate(-90)"><text y="0" font-size="24.6" fill="#111"><tspan x="-1.5">Im</tspan><tspan x="26.8" font-style="italic" font-size="25" dy="-2.7">χ</tspan><tspan x="47" font-size="19.5" dy="-11.3">(2)</tspan><tspan x="79.5" dy="14" textLength="102.5" lengthAdjust="spacingAndGlyphs">/ arb. unit</tspan></text></g>
<text x="119.6" y="554.6" font-size="33.7" font-style="italic" fill="#111" textLength="147.7" lengthAdjust="spacingAndGlyphs">Myalitsin,</text>
<text x="279.8" y="554.6" font-size="33.7" font-style="italic" fill="#111" textLength="39.6" lengthAdjust="spacingAndGlyphs">A.;</text>
<text x="333.2" y="554.6" font-size="33.7" font-style="italic" fill="#111" textLength="154.3" lengthAdjust="spacingAndGlyphs">Urashima,</text>
<text x="499.4" y="554.6" font-size="33.7" font-style="italic" fill="#111" textLength="25.5" lengthAdjust="spacingAndGlyphs">S.</text>
<text x="537.6" y="554.6" font-size="33.7" font-style="italic" fill="#111" textLength="200.2" lengthAdjust="spacingAndGlyphs">Nihonyanagi,</text>
<text x="752.4" y="554.6" font-size="33.7" font-style="italic" fill="#111" textLength="33.4" lengthAdjust="spacingAndGlyphs">S.;</text>
<text x="800.4" y="554.6" font-size="33.7" font-style="italic" fill="#111" textLength="174.3" lengthAdjust="spacingAndGlyphs">Yamaguchi,</text>
<text x="987.2" y="554.6" font-size="33.7" font-style="italic" fill="#111" textLength="35.5" lengthAdjust="spacingAndGlyphs">S.;</text>
<text x="1035.2" y="554.6" font-size="33.7" font-style="italic" fill="#111" textLength="112.6" lengthAdjust="spacingAndGlyphs">Tahara,</text>
<text x="1160.3" y="554.6" font-size="33.7" font-style="italic" fill="#111" textLength="30.4" lengthAdjust="spacingAndGlyphs">T.,</text>
<text x="1201.4" y="554.6" font-size="33.7" font-style="italic" fill="#111" textLength="21.0" lengthAdjust="spacingAndGlyphs">J.</text>
<text x="1234.1" y="554.6" font-size="33.7" font-style="italic" fill="#111" textLength="172.2" lengthAdjust="spacingAndGlyphs">Phys.Chem.</text>
<text x="1419.9" y="554.6" font-size="33.7" font-style="italic" fill="#111" textLength="27.0" lengthAdjust="spacingAndGlyphs">C,</text>
<text x="1457.9" y="554.6" font-size="33.7" font-style="italic" font-weight="bold" fill="#111" textLength="75.9" lengthAdjust="spacingAndGlyphs">2016</text>
<text x="1535.3" y="554.6" font-size="33.7" font-style="italic" fill="#111" textLength="7.5" lengthAdjust="spacingAndGlyphs">,</text>
<text x="1554.2" y="554.6" font-size="33.7" font-style="italic" fill="#111" textLength="75.1" lengthAdjust="spacingAndGlyphs">9397</text>
<text x="1631.8" y="554.6" font-size="33.7" font-style="italic" font-weight="bold" fill="#111" textLength="7.5" lengthAdjust="spacingAndGlyphs">.</text>
<g stroke="#111" stroke-width="1.9" stroke-linecap="butt"><line x1="75.8" y1="554.5" x2="111.7" y2="526"/><line x1="82.3" y1="526" x2="104.4" y2="554.5"/></g>
<circle cx="96.8" cy="528.8" r="2.6" fill="#111"/>
<circle cx="82.3" cy="540.1" r="2.6" fill="#111"/>
<circle cx="104.8" cy="540.1" r="2.6" fill="#111"/>
<circle cx="90.8" cy="551.3" r="2.6" fill="#111"/>
</svg></body></html>
